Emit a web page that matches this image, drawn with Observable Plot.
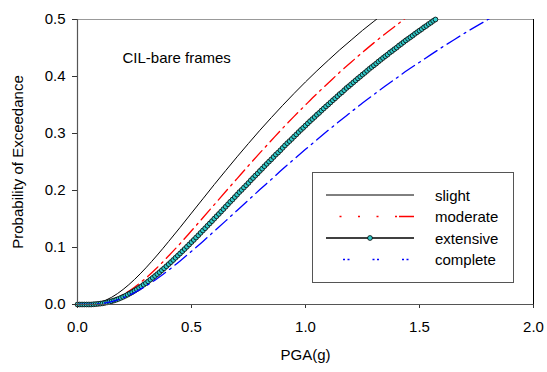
<!DOCTYPE html>
<html>
<head>
<meta charset="utf-8">
<script src="https://cdn.jsdelivr.net/npm/d3@7"></script>
<script src="https://cdn.jsdelivr.net/npm/@observablehq/plot@0.6"></script>
<style>
  body { margin: 0; background: #fff; }
  #wrap { position: relative; width: 547px; height: 372px; font-family: "Liberation Sans", Arial, sans-serif; }
  #legend { position: absolute; left: 0; top: 0; }
</style>
</head>
<body>
<div id="wrap"></div>
<script>
// ---- data ----
const xTicks = [0, 0.5, 1, 1.5, 2];
const xTickLabels = ["0.0", "0.5", "1.0", "1.5", "2.0"];
const yTicks = [0, 0.1, 0.2, 0.3, 0.4, 0.5];
const yTickLabels = ["0.0", "0.1", "0.2", "0.3", "0.4", "0.5"];
const seriesNames = ["slight", "moderate", "extensive", "complete"];
const annotation = "CIL-bare frames";

const lineGrid = [0, 0.05, 0.10, 0.15, 0.20, 0.25, 0.30, 0.35, 0.40, 0.45, 0.50, 0.55, 0.60, 0.65, 0.70, 0.75, 0.80, 0.85, 0.90, 0.95,
  1.00, 1.05, 1.10, 1.15, 1.20, 1.25, 1.30, 1.35, 1.40, 1.45, 1.50, 1.55, 1.60, 1.65, 1.70, 1.75, 1.80, 1.85];
const slightP = [0, 0.0004, 0.0040, 0.0127, 0.0264, 0.0439, 0.0643, 0.0868, 0.1107, 0.1352, 0.1604, 0.1854, 0.2105, 0.2349,
  0.2591, 0.2826, 0.3057, 0.3278, 0.3494, 0.3703, 0.3905, 0.4099, 0.4285, 0.4467, 0.4638, 0.4809, 0.4968, 0.5124];
const moderateP = [0, 0.0002, 0.0021, 0.0077, 0.0172, 0.0304, 0.0465, 0.0650, 0.0854, 0.1068, 0.1294, 0.1522, 0.1752, 0.1982,
  0.2209, 0.2436, 0.2660, 0.2877, 0.3093, 0.3300, 0.3501, 0.3699, 0.3886, 0.4075, 0.4250, 0.4424, 0.4590, 0.4752, 0.4904, 0.5060];
const completeP = [0, 0.0001, 0.0014, 0.0052, 0.0118, 0.0209, 0.0324, 0.0456, 0.0605, 0.0764, 0.0934, 0.1107, 0.1287, 0.1467,
  0.1650, 0.1833, 0.2016, 0.2195, 0.2376, 0.2550, 0.2722, 0.2891, 0.3057, 0.3220, 0.3377, 0.3535, 0.3684, 0.3832, 0.3975, 0.4118,
  0.4250, 0.4384, 0.4515, 0.4641, 0.4765, 0.4884, 0.5000, 0.5112];

const extensiveX = [0.00, 0.01, 0.02, 0.03, 0.04, 0.05, 0.06, 0.07, 0.08, 0.09, 0.10, 0.11, 0.12, 0.13, 0.14, 0.15, 0.16, 0.17, 0.18, 0.19,
  0.20, 0.21, 0.22, 0.23, 0.24, 0.25, 0.26, 0.27, 0.28, 0.29, 0.30, 0.31, 0.32, 0.33, 0.34, 0.35, 0.36, 0.37, 0.38, 0.39,
  0.40, 0.41, 0.42, 0.43, 0.44, 0.45, 0.46, 0.47, 0.48, 0.49, 0.50, 0.51, 0.52, 0.53, 0.54, 0.55, 0.56, 0.57, 0.58, 0.59,
  0.60, 0.61, 0.62, 0.63, 0.64, 0.65, 0.66, 0.67, 0.68, 0.69, 0.70, 0.71, 0.72, 0.73, 0.74, 0.75, 0.76, 0.77, 0.78, 0.79,
  0.80, 0.81, 0.82, 0.83, 0.84, 0.85, 0.86, 0.87, 0.88, 0.89, 0.90, 0.91, 0.92, 0.93, 0.94, 0.95, 0.96, 0.97, 0.98, 0.99,
  1.00, 1.01, 1.02, 1.03, 1.04, 1.05, 1.06, 1.07, 1.08, 1.09, 1.10, 1.11, 1.12, 1.13, 1.14, 1.15, 1.16, 1.17, 1.18, 1.19,
  1.20, 1.21, 1.22, 1.23, 1.24, 1.25, 1.26, 1.27, 1.28, 1.29, 1.30, 1.31, 1.32, 1.33, 1.34, 1.35, 1.36, 1.37, 1.38, 1.39,
  1.40, 1.41, 1.42, 1.43, 1.44, 1.45, 1.46, 1.47, 1.48, 1.49, 1.50, 1.51, 1.52, 1.53, 1.54, 1.55, 1.56, 1.57];
const extensiveP = [0, 0, 0, 0, 0, 0, 0, 0.0004, 0.0007, 0.0011, 0.0015, 0.0021, 0.0028, 0.0037, 0.0047, 0.0058, 0.0070, 0.0084, 0.0099, 0.0116,
  0.0134, 0.0153, 0.0173, 0.0194, 0.0217, 0.0241, 0.0266, 0.0292, 0.0319, 0.0347, 0.0375, 0.0406, 0.0437, 0.0468, 0.0500, 0.0533, 0.0566, 0.0601, 0.0635, 0.0671,
  0.0708, 0.0744, 0.0781, 0.0820, 0.0857, 0.0895, 0.0934, 0.0973, 0.1013, 0.1053, 0.1094, 0.1133, 0.1174, 0.1214, 0.1257, 0.1298, 0.1338, 0.1381, 0.1422, 0.1463,
  0.1506, 0.1548, 0.1589, 0.1630, 0.1673, 0.1716, 0.1758, 0.1802, 0.1841, 0.1885, 0.1927, 0.1972, 0.2010, 0.2052, 0.2092, 0.2133, 0.2179, 0.2219, 0.2261, 0.2300,
  0.2344, 0.2383, 0.2426, 0.2467, 0.2507, 0.2546, 0.2588, 0.2630, 0.2666, 0.2706, 0.2749, 0.2790, 0.2830, 0.2867, 0.2905, 0.2946, 0.2984, 0.3025, 0.3064, 0.3100,
  0.3139, 0.3178, 0.3217, 0.3253, 0.3289, 0.3329, 0.3362, 0.3402, 0.3438, 0.3475, 0.3509, 0.3546, 0.3583, 0.3617, 0.3654, 0.3692, 0.3722, 0.3760, 0.3798, 0.3829,
  0.3863, 0.3898, 0.3932, 0.3967, 0.3998, 0.4033, 0.4064, 0.4099, 0.4134, 0.4165, 0.4196, 0.4227, 0.4262, 0.4293, 0.4325, 0.4356, 0.4384, 0.4420, 0.4447, 0.4479,
  0.4507, 0.4542, 0.4570, 0.4602, 0.4633, 0.4661, 0.4689, 0.4717, 0.4749, 0.4777, 0.4805, 0.4832, 0.4864, 0.4888, 0.4920, 0.4944, 0.4976, 0.5000];

// ---- tables for the library ----
const toRows = (arr, xs) => arr.map((v, i) => ({x: xs[i], y: v}));
const slight = toRows(slightP, lineGrid);
const moderate = toRows(moderateP, lineGrid);
const complete = toRows(completeP, lineGrid);
const extensive = toRows(extensiveP, extensiveX);

const FONT = "Liberation Sans, Arial, sans-serif";
const RED = "#ff0000", BLUE = "#0000ff", CYAN = "#33cccc";

const chart = Plot.plot({
  width: 547,
  height: 372,
  marginLeft: 77,
  marginRight: 14,
  marginTop: 19,
  marginBottom: 68,
  style: {fontFamily: FONT, fontSize: "15px", background: "#fff", color: "#000", overflow: "visible"},
  x: {domain: [0, 2]},
  y: {domain: [0, 0.5]},
  marks: [
    Plot.ruleY([0.5], {stroke: "#999", strokeWidth: 1}),
    Plot.ruleX([2], {stroke: "#000", strokeWidth: 1}),
    Plot.line(slight, {x: "x", y: "y", stroke: "#000", strokeWidth: 1, curve: "monotone-x", clip: true}),
    Plot.line(moderate, {x: "x", y: "y", stroke: RED, strokeWidth: 1.3, strokeDasharray: "14,5,2,5", curve: "monotone-x", clip: true}),
    Plot.line(extensive, {x: "x", y: "y", stroke: "#000", strokeWidth: 1.2, curve: "monotone-x"}),
    Plot.dot(extensive, {x: "x", y: "y", r: 2.4, fill: CYAN, stroke: "#000", strokeWidth: 0.8}),
    Plot.line(complete, {x: "x", y: "y", stroke: BLUE, strokeWidth: 1.3, strokeDasharray: "15,5,2,5", curve: "monotone-x", clip: true}),
    Plot.axisX({ticks: xTicks, tickFormat: (d, i) => xTickLabels[i], tickSize: 4, tickPadding: 13, fontSize: 15, label: null, stroke: "#333"}),
    Plot.axisY({ticks: yTicks, tickFormat: (d, i) => yTickLabels[i], tickSize: 5, tickPadding: 7, fontSize: 15, label: null, stroke: "#333"}),
    Plot.ruleY([0], {stroke: "#555", strokeWidth: 1.2}),
    Plot.ruleX([0], {stroke: "#555", strokeWidth: 1.2}),
    Plot.text([annotation], {frameAnchor: "top-left", dx: 45, dy: 33, textAnchor: "start", lineAnchor: "top", fontSize: 15, fill: "#000"}),
    Plot.text(["PGA(g)"], {frameAnchor: "bottom", dy: 55, fontSize: 15, fill: "#000"}),
    Plot.text(["Probability of Exceedance"], {frameAnchor: "left", dx: -59, rotate: -90, textAnchor: "middle", lineAnchor: "middle", fontSize: 15, fill: "#000"})
  ]
});

const wrap = document.getElementById("wrap");
wrap.appendChild(chart);

// ---- legend (overlay inside the plot area) ----
const ns = "http://www.w3.org/2000/svg";
const leg = document.createElementNS(ns, "svg");
leg.setAttribute("id", "legend");
leg.setAttribute("width", 547);
leg.setAttribute("height", 372);
const box = {x: 312.5, y: 172.5, w: 201, h: 110};
const rowY = [195, 216.5, 238, 259.5];
const s = [];
s.push(`<rect x="${box.x}" y="${box.y}" width="${box.w}" height="${box.h}" fill="#fff" stroke="#555" stroke-width="1"/>`);
s.push(`<line x1="326" x2="414" y1="${rowY[0]}" y2="${rowY[0]}" stroke="#000" stroke-width="1"/>`);
s.push(`<line x1="339.5" x2="414" y1="${rowY[1]}" y2="${rowY[1]}" stroke="${RED}" stroke-width="1.3" stroke-dasharray="2,16.5,2,16.5,2,16.5,2,2,15"/>`);
s.push(`<line x1="326" x2="414" y1="${rowY[2]}" y2="${rowY[2]}" stroke="#000" stroke-width="1.3"/>`);
s.push(`<circle cx="370" cy="${rowY[2]}" r="2.4" fill="${CYAN}" stroke="#000" stroke-width="0.8"/>`);
s.push(`<line x1="343" x2="409" y1="${rowY[3]}" y2="${rowY[3]}" stroke="${BLUE}" stroke-width="1.3" stroke-dasharray="2,2.5,2,23"/>`);
seriesNames.forEach((n, i) => {
  s.push(`<text x="435" y="${rowY[i] + 5.5}" font-family="${FONT}" font-size="15" fill="#000">${n}</text>`);
});
leg.innerHTML = s.join("");
wrap.appendChild(leg);
</script>
</body>
</html>
